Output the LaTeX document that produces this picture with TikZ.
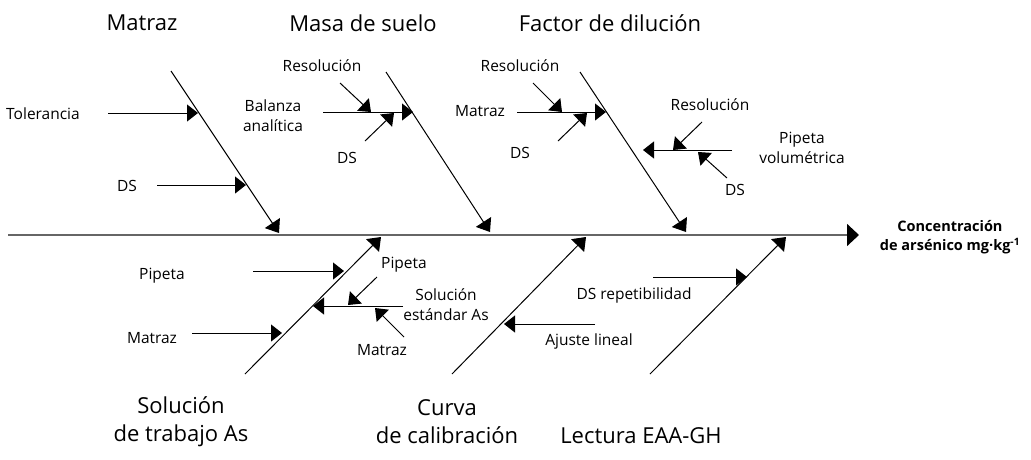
\documentclass[tikz,border=0pt]{standalone}
\usepackage{fontspec}
\setmainfont{Open Sans}
\usetikzlibrary{arrows.meta}
\begin{document}
\begin{tikzpicture}[x=1pt,y=-1pt,
	bone/.style={line width=1pt,-{Triangle[length=12pt,width=18pt]}},
	cause/.style={line width=1pt,-{Triangle[length=11pt,width=17pt]}},
	spine/.style={line width=1.8pt,black!60,-{Triangle[length=12pt,width=22pt,color=black]}},
	lbl/.style={inner sep=0pt,align=center,font=\fontsize{15.5}{20}\selectfont},
	head/.style={inner sep=0pt,align=center,font=\fontsize{22}{28}\selectfont},
	effect/.style={inner sep=0pt,align=center,font=\bfseries\fontsize{14.5}{19}\selectfont}]
	\useasboundingbox (0,0) rectangle (1031,459);
	% spine and effect
	\coordinate (spA) at (8,235);
	\node[effect] (eff) at (950,237) {Concentración\\de arsénico mg·kg\textsuperscript{-1}};
	\coordinate (spB) at (859,235);
	\draw[spine] (spA) -- (spB);
	% upper bones
	\coordinate (matA) at (171,71);  \coordinate (matB) at (279,233);
	\coordinate (masA) at (386,72);  \coordinate (masB) at (490,232);
	\coordinate (facA) at (580,72);  \coordinate (facB) at (686,232);
	\node[head] (mat) at (142,23) {Matraz};
	\node[head] (mas) at (363,23) {Masa de suelo};
	\node[head] (fac) at (610,23) {Factor de dilución};
	\draw[bone] (matA) -- (matB);
	\draw[bone] (masA) -- (masB);
	\draw[bone] (facA) -- (facB);
	% Matraz
	\node[lbl] (tol) at (43,114) {Tolerancia};
	\coordinate (tolA) at (108,113); \coordinate (tolB) at (198,113);
	\draw[cause] (tolA) -- (tolB);
	\node[lbl] (ds1) at (127,186) {DS};
	\coordinate (ds1A) at (157,185); \coordinate (ds1B) at (246,185);
	\draw[cause] (ds1A) -- (ds1B);
	% Masa de suelo
	\node[lbl] (bal) at (273,116) {Balanza\\analítica};
	\coordinate (balA) at (323,112); \coordinate (balB) at (413,112);
	\draw[cause] (balA) -- (balB);
	\node[lbl] (res1) at (322,66) {Resolución};
	\coordinate (res1A) at (340,83); \coordinate (res1B) at (371,112);
	\draw[cause] (res1A) -- (res1B);
	\node[lbl] (ds2) at (347,158) {DS};
	\coordinate (ds2A) at (365,141); \coordinate (ds2B) at (394,113);
	\draw[cause] (ds2A) -- (ds2B);
	% Factor de dilucion
	\node[lbl] (mat2) at (480,111) {Matraz};
	\coordinate (mat2A) at (517,112); \coordinate (mat2B) at (606,112);
	\draw[cause] (mat2A) -- (mat2B);
	\node[lbl] (res2) at (520,66) {Resolución};
	\coordinate (res2A) at (533,83); \coordinate (res2B) at (562,112);
	\draw[cause] (res2A) -- (res2B);
	\node[lbl] (ds3) at (520,153) {DS};
	\coordinate (ds3A) at (558,141); \coordinate (ds3B) at (587,113);
	\draw[cause] (ds3A) -- (ds3B);
	\node[lbl] (pip) at (802,148) {Pipeta\\volumétrica};
	\coordinate (pipA) at (732,150); \coordinate (pipB) at (643,150);
	\draw[cause] (pipA) -- (pipB);
	\node[lbl] (res3) at (710,105) {Resolución};
	\coordinate (res3A) at (702,122); \coordinate (res3B) at (673,150);
	\draw[cause] (res3A) -- (res3B);
	\node[lbl] (ds4) at (735,190) {DS};
	\coordinate (ds4A) at (727,178); \coordinate (ds4B) at (698,152);
	\draw[cause] (ds4A) -- (ds4B);
	% lower bones
	\coordinate (solA) at (245,374); \coordinate (solB) at (381,237);
	\coordinate (curA) at (452,374); \coordinate (curB) at (586,237);
	\coordinate (lecA) at (650,374); \coordinate (lecB) at (786,237);
	\node[head] (sol) at (181,422) {Solución\\de trabajo As};
	\node[head] (cur) at (447,422) {Curva\\de calibración};
	\node[head] (lec) at (641,436) {Lectura EAA-GH};
	\draw[bone] (solA) -- (solB);
	\draw[bone] (curA) -- (curB);
	\draw[bone] (lecA) -- (lecB);
	% Solucion de trabajo
	\node[lbl] (pip1) at (162,276) {Pipeta};
	\coordinate (pip1A) at (253,271); \coordinate (pip1B) at (344,271);
	\draw[cause] (pip1A) -- (pip1B);
	\node[lbl] (mat3) at (152,338) {Matraz};
	\coordinate (mat3A) at (192,333); \coordinate (mat3B) at (282,333);
	\draw[cause] (mat3A) -- (mat3B);
	\node[lbl] (est) at (446,305) {Solución\\estándar As};
	\coordinate (estA) at (403,306); \coordinate (estB) at (313,306);
	\draw[cause] (estA) -- (estB);
	\node[lbl] (pip2) at (404,265) {Pipeta};
	\coordinate (pip2A) at (377,277); \coordinate (pip2B) at (348,305);
	\draw[cause] (pip2A) -- (pip2B);
	\node[lbl] (mat4) at (382,350) {Matraz};
	\coordinate (mat4A) at (404,337); \coordinate (mat4B) at (375,308);
	\draw[cause] (mat4A) -- (mat4B);
	% Curva y lectura
	\node[lbl] (aju) at (589,341) {Ajuste lineal};
	\coordinate (ajuA) at (595,324); \coordinate (ajuB) at (504,324);
	\draw[cause] (ajuA) -- (ajuB);
	\node[lbl] (rep) at (634,295) {DS repetibilidad};
	\coordinate (repA) at (653,277); \coordinate (repB) at (747,277);
	\draw[cause] (repA) -- (repB);
\end{tikzpicture}
\end{document}
